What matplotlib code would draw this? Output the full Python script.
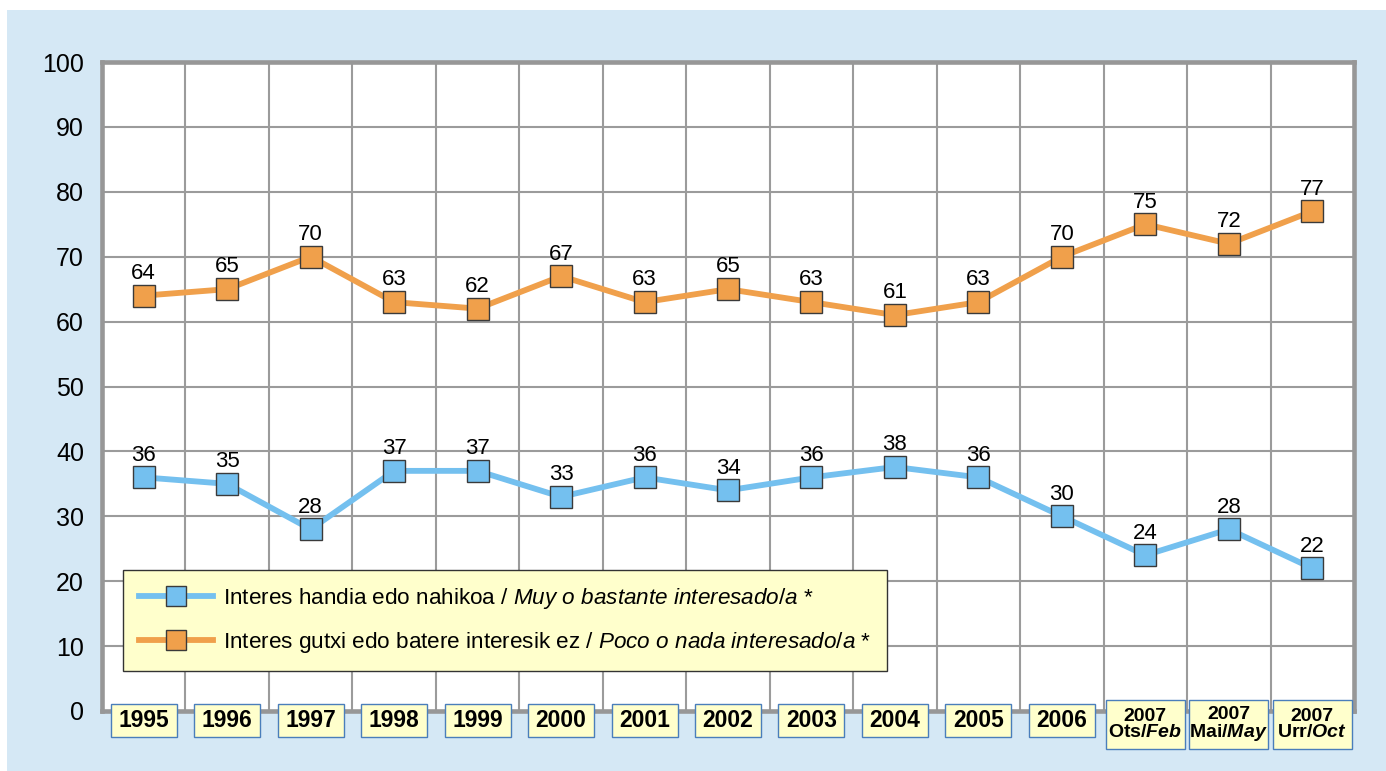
import matplotlib
matplotlib.use("Agg")
import matplotlib.pyplot as plt
from matplotlib.patches import Rectangle
import matplotlib.transforms as mtransforms

plt.rcParams['font.family'] = ['Liberation Sans', 'DejaVu Sans']
plt.rcParams['mathtext.fontset'] = 'custom'
plt.rcParams['mathtext.rm'] = 'Liberation Sans'
plt.rcParams['mathtext.it'] = 'Liberation Sans:italic'
plt.rcParams['mathtext.bf'] = 'Liberation Sans:bold'
plt.rcParams['mathtext.bfit'] = 'Liberation Sans:italic:bold'

# data
years = ["1995", "1996", "1997", "1998", "1999", "2000", "2001", "2002",
         "2003", "2004", "2005", "2006",
         "2007\nOts/$\\mathbfit{Feb}$", "2007\nMai/$\\mathbfit{May}$",
         "2007\nUrr/$\\mathbfit{Oct}$"]
interested = [36, 35, 28, 37, 37, 33, 36, 34, 36, 37.6, 36, 30, 24, 28, 22]
not_interested = [64, 65, 70, 63, 62, 67, 63, 65, 63, 61, 63, 70, 75, 72, 77]
label_blue = r"Interes handia edo nahikoa / $\mathit{Muy\ o\ bastante\ interesado/a}$ *"
label_orange = r"Interes gutxi edo batere interesik ez / $\mathit{Poco\ o\ nada\ interesado/a}$ *"

blue = "#74C0EF"
orange = "#F0A04B"
bg = "#D5E8F5"
grid_c = "#9B9B9B"

fig = plt.figure(figsize=(13.86, 7.71), dpi=100)
fig.add_artist(Rectangle((7 / 1386, 0), 1, 1 - 10 / 771, transform=fig.transFigure,
                         facecolor=bg, edgecolor="none", zorder=-10))
ax = fig.add_axes([102 / 1386, 60 / 771, 1252 / 1386, 649 / 771])
ax.set_facecolor("white")

x = list(range(len(years)))
ax.plot(x, interested, color=blue, lw=4.2, marker="s", ms=15.5, mfc=blue,
        mec="#3A3A3A", mew=1.0, label=label_blue, zorder=3)
ax.plot(x, not_interested, color=orange, lw=4.2, marker="s", ms=15.5, mfc=orange,
        mec="#3A3A3A", mew=1.0, label=label_orange, zorder=3)

for series in (interested, not_interested):
    for xi, v in zip(x, series):
        ax.annotate(f"{v:.0f}", (xi, v), xytext=(0, 12), textcoords="offset points",
                    ha="center", va="baseline", fontsize=16, zorder=4)

ax.set_xlim(-0.5, len(years) - 0.5)
ax.set_ylim(0, 100)
ax.set_yticks(range(0, 101, 10))
ax.set_xticks(x)
ax.set_xticklabels([])
ax.set_xticks([i + 0.5 for i in x[:-1]], minor=True)
ax.tick_params(axis="both", which="both", length=0)
ax.tick_params(axis="y", labelsize=18, pad=13)
ax.grid(True, axis="y", color=grid_c, lw=1.5)
ax.grid(True, axis="x", which="minor", color=grid_c, lw=1.5)
ax.grid(False, axis="x", which="major")
ax.set_axisbelow(True)
for s in ax.spines.values():
    s.set_color("#979797")
    s.set_linewidth(3.3)

# boxed category labels
trans = mtransforms.blended_transform_factory(ax.transData, ax.transAxes)
for xi, lab in zip(x, years):
    if "\n" in lab:
        w, top, h, fs = 0.95, 0.017, 0.075, 14
    else:
        w, top, h, fs = 0.79, 0.011, 0.051, 16.5
    ax.add_patch(Rectangle((xi - w / 2, top - h), w, h, transform=trans,
                           facecolor="#FFFFCC", edgecolor="#4A7EBB", lw=1.0,
                           clip_on=False, zorder=5))
    ax.text(xi, top - h / 2, lab, transform=trans, ha="center", va="center",
            fontsize=fs, fontweight="bold", linespacing=0.9, zorder=6,
            clip_on=False)

leg = ax.legend(loc="lower left", bbox_to_anchor=(0.0168, 0.0616), borderaxespad=0,
                fontsize=16.2, frameon=True, fancybox=False, framealpha=1,
                handlelength=3.3, handletextpad=0.45, labelspacing=0.85,
                borderpad=0.7, markerscale=0.95)
leg.get_frame().set_facecolor("#FFFFCC")
leg.get_frame().set_edgecolor("#333333")
leg.get_frame().set_linewidth(1.0)
leg.set_zorder(7)

fig.savefig("out.png", dpi=100)
